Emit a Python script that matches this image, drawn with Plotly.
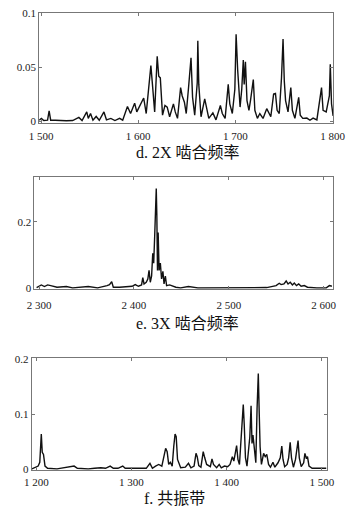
import plotly.graph_objects as go

# ---------------- data ----------------
# d. 2X mesh frequency
freq_d = [1498.0, 1500.3, 1502.8, 1506.7, 1508.3, 1509.9, 1514.7, 1519.6, 1526.0, 1532.5,
          1538.9, 1542.2, 1547.0, 1548.6, 1550.9, 1553.4, 1556.7, 1559.9, 1564.7, 1567.3,
          1571.8, 1576.0, 1580.8, 1584.0, 1588.9, 1592.1, 1596.3, 1598.5, 1603.3, 1605.6,
          1608.2, 1612.0, 1613.0, 1614.6, 1616.9, 1619.5, 1621.1, 1622.7, 1625.0, 1627.5,
          1629.8, 1632.3, 1636.2, 1638.1, 1640.4, 1643.6, 1645.2, 1647.5, 1649.4, 1651.7,
          1654.3, 1655.9, 1658.1, 1660.7, 1661.3, 1662.3, 1664.6, 1668.4, 1670.4, 1672.6,
          1676.8, 1680.0, 1684.5, 1686.5, 1689.4, 1692.6, 1694.2, 1696.8, 1699.4, 1700.7,
          1702.3, 1704.8, 1706.5, 1708.1, 1709.0, 1710.3, 1711.9, 1713.9, 1715.5, 1718.4,
          1720.0, 1722.6, 1725.1, 1728.4, 1732.2, 1733.8, 1736.4, 1739.3, 1741.2, 1742.9,
          1745.1, 1747.4, 1749.0, 1750.3, 1751.6, 1754.1, 1757.0, 1758.6, 1761.2, 1765.1,
          1766.7, 1769.3, 1773.5, 1776.7, 1779.9, 1783.8, 1788.6, 1790.2, 1793.4, 1796.7,
          1797.6, 1798.9, 1800.5]
amp_d = [0.001, 0.0027, 0.0007, 0.001, 0.0096, 0.001, 0.001, 0.0007, 0.0005, 0.0007,
         0.0036, 0.0007, 0.0087, 0.0027, 0.0072, 0.001, 0.0045, 0.001, 0.0087, 0.0014,
         0.0027, 0.0007, 0.0027, 0.001, 0.0138, 0.0072, 0.0168, 0.0087, 0.0177, 0.0216,
         0.0072, 0.0387, 0.0516, 0.0342, 0.0087, 0.0603, 0.0417, 0.0402, 0.0057, 0.0147,
         0.0132, 0.0042, 0.0162, 0.0087, 0.0027, 0.0312, 0.0237, 0.0177, 0.0072, 0.0306,
         0.0588, 0.0222, 0.0057, 0.0357, 0.0747, 0.0342, 0.0042, 0.0207, 0.0102, 0.0027,
         0.0078, 0.0013, 0.0147, 0.0072, 0.0027, 0.0342, 0.0162, 0.0072, 0.0297, 0.0807,
         0.0477, 0.0132, 0.0297, 0.0567, 0.0342, 0.0552, 0.0192, 0.0102, 0.0192, 0.0387,
         0.0102, 0.0027, 0.0072, 0.0027, 0.0117, 0.0087, 0.0042, 0.0252, 0.0258, 0.0102,
         0.0072, 0.0402, 0.0762, 0.0372, 0.0192, 0.0087, 0.0312, 0.0102, 0.0027, 0.0222,
         0.0057, 0.0027, 0.003, 0.001, 0.003, 0.0013, 0.0312, 0.0102, 0.0087, 0.0237,
         0.0528, 0.0162, 0.005]

# e. 3X mesh frequency
freq_e = [2297.3, 2302.3, 2305.6, 2308.9, 2312.2, 2315.5, 2318.8, 2328.7, 2335.3, 2351.8,
          2361.7, 2371.6, 2374.2, 2376.5, 2378.2, 2384.8, 2391.4, 2398.0, 2401.3, 2404.7,
          2408.0, 2409.3, 2410.6, 2412.9, 2414.6, 2415.9, 2417.2, 2418.6, 2419.8, 2420.8,
          2421.8, 2422.8, 2423.5, 2424.1, 2424.8, 2425.5, 2426.5, 2427.8, 2429.1, 2430.5,
          2431.7, 2433.1, 2434.4, 2437.6, 2440.9, 2444.2, 2449.2, 2457.4, 2467.4, 2483.9,
          2500.4, 2520.2, 2540.0, 2549.9, 2553.2, 2555.2, 2558.2, 2560.5, 2562.5, 2564.8,
          2567.1, 2569.1, 2571.4, 2573.7, 2576.3, 2579.6, 2583.0, 2592.9, 2602.8, 2606.1,
          2608.7]
amp_e = [0.001, 0.009, 0.004, 0.009, 0.007, 0.004, 0.002, 0.004, 0.0, 0.004,
         0.0, 0.007, 0.010, 0.019, 0.002, 0.002, 0.004, 0.005, 0.010, 0.005,
         0.009, 0.031, 0.012, 0.017, 0.027, 0.053, 0.017, 0.036, 0.105, 0.075,
         0.154, 0.252, 0.301, 0.222, 0.053, 0.168, 0.053, 0.075, 0.027, 0.050,
         0.012, 0.036, 0.007, 0.009, 0.005, 0.002, 0.0, 0.004, 0.0, 0.0,
         0.001, 0.001, 0.001, 0.007, 0.014, 0.010, 0.012, 0.021, 0.012, 0.017,
         0.009, 0.015, 0.007, 0.012, 0.005, 0.007, 0.002, 0.0, 0.0, 0.007,
         0.005]

# f. resonance band
freq_f = [1195.3, 1201.9, 1203.6, 1205.2, 1206.2, 1207.5, 1209.1, 1211.8, 1221.7, 1231.5,
          1236.5, 1239.7, 1243.1, 1254.5, 1261.2, 1267.8, 1272.7, 1277.6, 1280.9, 1285.8,
          1290.8, 1293.4, 1300.6, 1310.5, 1315.5, 1319.4, 1322.0, 1325.3, 1328.6, 1331.9,
          1334.2, 1335.9, 1337.5, 1339.1, 1340.8, 1342.8, 1344.4, 1345.8, 1347.0, 1348.4,
          1351.7, 1356.6, 1359.9, 1362.5, 1365.8, 1367.8, 1369.1, 1370.7, 1373.0, 1375.4,
          1377.0, 1379.0, 1382.9, 1384.6, 1386.2, 1389.5, 1392.2, 1394.4, 1397.7, 1401.0,
          1403.6, 1406.0, 1407.6, 1409.2, 1410.5, 1411.9, 1413.5, 1414.9, 1416.2, 1417.5,
          1418.5, 1419.8, 1421.4, 1423.1, 1424.4, 1425.7, 1426.7, 1427.7, 1429.0, 1430.7,
          1432.0, 1433.3, 1434.3, 1435.2, 1436.6, 1438.9, 1440.6, 1442.2, 1444.1, 1446.1,
          1448.7, 1450.7, 1454.0, 1456.4, 1458.0, 1459.3, 1461.0, 1463.6, 1465.2, 1466.8,
          1468.2, 1470.2, 1472.4, 1473.7, 1475.1, 1476.4, 1478.4, 1481.0, 1482.3, 1483.6,
          1485.0, 1486.6, 1489.9, 1496.4, 1504.7]
amp_f = [0.001, 0.006, 0.013, 0.064, 0.031, 0.027, 0.006, 0.002, 0.001, 0.003,
         0.004, 0.006, 0.002, 0.001, 0.002, 0.003, 0.002, 0.006, 0.002, 0.002,
         0.006, 0.002, 0.002, 0.002, 0.002, 0.011, 0.002, 0.006, 0.009, 0.006,
         0.027, 0.038, 0.032, 0.009, 0.013, 0.006, 0.041, 0.064, 0.059, 0.018,
         0.003, 0.004, 0.011, 0.003, 0.006, 0.029, 0.023, 0.007, 0.004, 0.032,
         0.021, 0.009, 0.005, 0.019, 0.009, 0.003, 0.009, 0.003, 0.006, 0.005,
         0.009, 0.023, 0.015, 0.035, 0.043, 0.018, 0.009, 0.047, 0.088, 0.117,
         0.082, 0.021, 0.006, 0.041, 0.059, 0.115, 0.047, 0.062, 0.035, 0.012,
         0.109, 0.173, 0.100, 0.041, 0.009, 0.029, 0.023, 0.027, 0.009, 0.004,
         0.013, 0.004, 0.012, 0.021, 0.042, 0.018, 0.005, 0.009, 0.021, 0.049,
         0.021, 0.004, 0.018, 0.032, 0.052, 0.021, 0.005, 0.012, 0.029, 0.021,
         0.023, 0.006, 0.002, 0.002, 0.002]

xticks_d = [1500, 1600, 1700, 1800]
xtext_d = ["1 500", "1 600", "1 700", "1 800"]
yticks_d = [0, 0.05, 0.1]
ytext_d = ["0", "0.05", "0.1"]

xticks_e = [2300, 2400, 2500, 2600]
xtext_e = ["2 300", "2 400", "2 500", "2 600"]
yticks_e = [0, 0.2]
ytext_e = ["0", "0.2"]

xticks_f = [1200, 1300, 1400, 1500]
xtext_f = ["1 200", "1 300", "1 400", "1 500"]
yticks_f = [0, 0.1, 0.2]
ytext_f = ["0", "0.1", "0.2"]

titles = ["d. 2X 啮合频率", "e. 3X 啮合频率", "f. 共振带"]

# ---------------- figure ----------------
W, H = 362, 520
serif = "Liberation Serif, Times New Roman, Noto Sans CJK SC, serif"
title_font = "Liberation Serif, Noto Sans CJK SC, serif"

fig = go.Figure()
line = dict(color="#111111", width=1.4)
fig.add_trace(go.Scatter(x=freq_d, y=amp_d, mode="lines", line=line, xaxis="x", yaxis="y",
                         showlegend=False, hoverinfo="skip"))
fig.add_trace(go.Scatter(x=freq_e, y=amp_e, mode="lines", line=line, xaxis="x2", yaxis="y2",
                         showlegend=False, hoverinfo="skip"))
fig.add_trace(go.Scatter(x=freq_f, y=amp_f, mode="lines", line=line, xaxis="x3", yaxis="y3",
                         showlegend=False, hoverinfo="skip"))


def px_x(p):
    return p / W


def px_y(p):
    return 1 - p / H


def axis_common():
    return dict(showline=True, linecolor="#777777", linewidth=1, mirror="allticks",
                ticks="inside", ticklen=3, tickcolor="#777777", showgrid=False,
                zeroline=False, tickmode="array",
                tickfont=dict(family=serif, size=11, color="#222222"), fixedrange=True)


panels = [
    # (x px left, right, y px top, bottom, xrange, yrange, xt, xtt, yt, ytt, x label standoff)
    (31, 344, 7, 120, [1498, 1800.5], [-0.002, 0.1005], xticks_d, xtext_d, yticks_d, ytext_d, 2),
    (26, 344, 175, 289, [2295, 2610], [-0.003, 0.335], xticks_e, xtext_e, yticks_e, ytext_e, 6),
    (23, 338, 360, 474, [1195, 1506], [-0.001, 0.2005], xticks_f, xtext_f, yticks_f, ytext_f, 2),
]

layout = dict(width=W, height=H, margin=dict(l=0, r=0, t=0, b=0),
              paper_bgcolor="white", plot_bgcolor="white", showlegend=False)
for i, (l, r, t, b, xr, yr, xt, xtt, yt, ytt, so) in enumerate(panels):
    sfx = "" if i == 0 else str(i + 1)
    xa = axis_common()
    xa.update(domain=[px_x(l), px_x(r)], range=xr, tickvals=xt, ticktext=xtt,
              anchor="y" + sfx, ticklabelstandoff=so)
    ya = axis_common()
    ya.update(domain=[px_y(b), px_y(t)], range=yr, tickvals=yt, ticktext=ytt,
              anchor="x" + sfx)
    layout["xaxis" + sfx] = xa
    layout["yaxis" + sfx] = ya

fig.update_layout(**layout)

title_pos = [(189, 150), (189, 324), (175, 503)]
for (cx, cy), txt in zip(title_pos, titles):
    fig.add_annotation(x=px_x(cx), y=px_y(cy), xref="paper", yref="paper", text=txt,
                       showarrow=False, xanchor="center", yanchor="middle",
                       font=dict(family=title_font, size=16, color="#111111"))

fig.write_html("out.html")
